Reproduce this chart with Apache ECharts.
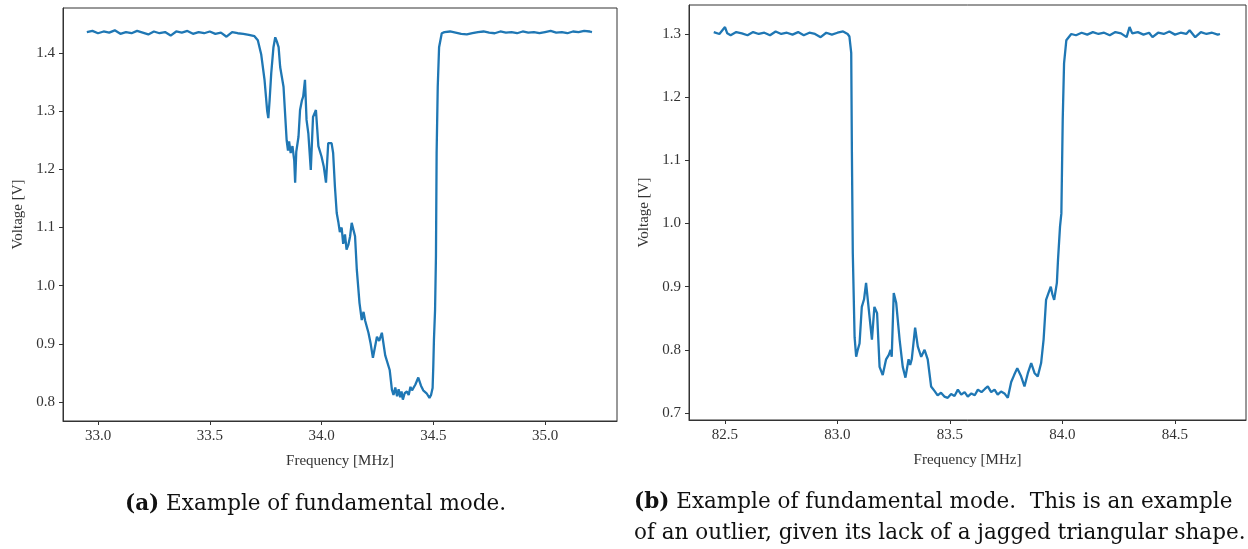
<!DOCTYPE html>
<html>
<head>
<meta charset="utf-8">
<script src="https://cdn.jsdelivr.net/npm/echarts@6/dist/echarts.min.js"></script>
<style>
html,body{margin:0;padding:0;background:#fff;}
#c{width:1248px;height:549px;}
</style>
</head>
<body>
<div id="c"></div>
<script>
// ---- Panel (a) ----
const freqA = [
32.950,32.975,33.000,33.025,33.050,33.075,33.100,33.125,33.150,33.175,
33.200,33.225,33.250,33.275,33.300,33.325,33.350,33.375,33.400,33.425,
33.450,33.475,33.500,33.525,33.550,33.575,33.600,33.625,33.650,33.675,
33.700,33.715,33.730,33.745,33.757,33.762,33.768,33.775,33.785,33.793,
33.800,33.808,33.815,33.830,33.844,33.850,33.855,33.862,33.870,33.878,
33.882,33.887,33.897,33.904,33.912,33.918,33.926,33.933,33.941,33.952,
33.962,33.975,33.986,34.000,34.010,34.020,34.030,34.045,34.052,34.060,
34.068,34.075,34.082,34.090,34.097,34.105,34.112,34.120,34.128,34.135,
34.150,34.158,34.170,34.180,34.188,34.195,34.210,34.220,34.230,34.248,
34.258,34.270,34.285,34.305,34.315,34.322,34.330,34.338,34.345,34.352,
34.358,34.364,34.372,34.382,34.390,34.398,34.405,34.420,34.433,34.445,
34.455,34.470,34.483,34.490,34.497,34.500,34.503,34.508,34.512,34.515,
34.520,34.526,34.538,34.550,34.575,34.600,34.625,34.650,34.675,34.700,
34.725,34.750,34.775,34.800,34.825,34.850,34.875,34.900,34.925,34.950,
34.975,35.000,35.025,35.050,35.075,35.100,35.125,35.150,35.175,35.200,
35.210
];
const voltA = [
1.436,1.438,1.434,1.437,1.435,1.439,1.433,1.436,1.434,1.438,
1.435,1.432,1.437,1.434,1.436,1.430,1.437,1.435,1.438,1.433,
1.436,1.434,1.437,1.433,1.435,1.428,1.436,1.434,1.433,1.431,
1.429,1.422,1.398,1.354,1.300,1.288,1.320,1.365,1.410,1.427,
1.420,1.410,1.376,1.342,1.250,1.232,1.248,1.228,1.240,1.215,
1.177,1.230,1.256,1.302,1.318,1.325,1.354,1.285,1.262,1.199,
1.290,1.302,1.240,1.222,1.205,1.177,1.245,1.245,1.228,1.170,
1.125,1.110,1.092,1.100,1.072,1.088,1.062,1.070,1.085,1.108,
1.085,1.027,0.970,0.941,0.955,0.940,0.919,0.900,0.876,0.912,
0.905,0.919,0.880,0.855,0.821,0.812,0.825,0.810,0.822,0.808,
0.818,0.804,0.815,0.818,0.812,0.826,0.820,0.830,0.842,0.828,
0.820,0.815,0.807,0.812,0.824,0.860,0.907,0.958,1.050,1.228,
1.342,1.410,1.434,1.436,1.437,1.435,1.433,1.432,1.434,1.436,
1.437,1.435,1.434,1.437,1.435,1.436,1.434,1.437,1.435,1.436,
1.434,1.436,1.438,1.435,1.436,1.434,1.437,1.436,1.438,1.437,
1.436
];
const xTicksA = [33.0, 33.5, 34.0, 34.5, 35.0];
const yTicksA = [0.8, 0.9, 1.0, 1.1, 1.2, 1.3, 1.4];

// ---- Panel (b) ----
const freqB = [
82.450,82.475,82.500,82.510,82.525,82.550,82.575,82.600,82.625,82.650,
82.675,82.700,82.725,82.750,82.775,82.800,82.825,82.850,82.875,82.900,
82.925,82.950,82.975,83.000,83.025,83.045,83.053,83.061,83.064,83.068,
83.076,83.083,83.090,83.098,83.108,83.118,83.127,83.133,83.139,83.153,
83.164,83.176,83.187,83.201,83.216,83.228,83.236,83.241,83.250,83.261,
83.276,83.290,83.302,83.316,83.323,83.330,83.345,83.357,83.372,83.387,
83.401,83.416,83.431,83.445,83.460,83.475,83.490,83.505,83.520,83.535,
83.550,83.565,83.579,83.595,83.610,83.624,83.640,83.655,83.668,83.683,
83.698,83.712,83.727,83.742,83.757,83.772,83.785,83.799,83.816,83.831,
83.846,83.861,83.876,83.890,83.905,83.916,83.927,83.938,83.948,83.955,
83.963,83.975,83.980,83.989,83.995,84.001,84.007,84.017,84.039,84.060,
84.085,84.110,84.135,84.160,84.185,84.210,84.235,84.260,84.285,84.298,
84.310,84.335,84.360,84.385,84.400,84.425,84.450,84.475,84.500,84.525,
84.550,84.565,84.590,84.615,84.640,84.665,84.690,84.700
];
const voltB = [
1.303,1.300,1.311,1.301,1.298,1.303,1.301,1.298,1.303,1.300,
1.302,1.298,1.304,1.300,1.302,1.299,1.303,1.298,1.302,1.300,
1.295,1.302,1.299,1.302,1.304,1.300,1.296,1.270,1.112,0.953,
0.820,0.789,0.800,0.810,0.868,0.880,0.906,0.885,0.864,0.816,
0.868,0.858,0.773,0.760,0.785,0.792,0.800,0.789,0.890,0.874,
0.816,0.773,0.756,0.785,0.776,0.785,0.835,0.805,0.789,0.800,
0.785,0.742,0.735,0.728,0.732,0.726,0.724,0.730,0.727,0.737,
0.729,0.733,0.726,0.731,0.728,0.737,0.733,0.738,0.742,0.733,
0.737,0.729,0.734,0.731,0.724,0.749,0.760,0.771,0.758,0.742,
0.763,0.779,0.763,0.758,0.779,0.816,0.879,0.890,0.900,0.888,
0.879,0.906,0.942,0.995,1.016,1.164,1.254,1.290,1.300,1.298,
1.302,1.299,1.303,1.300,1.302,1.298,1.303,1.301,1.295,1.311,
1.301,1.303,1.299,1.302,1.295,1.302,1.300,1.304,1.299,1.302,
1.300,1.306,1.295,1.303,1.300,1.302,1.299,1.300
];
const xTicksB = [82.5, 83.0, 83.5, 84.0, 84.5];
const yTicksB = [0.7, 0.8, 0.9, 1.0, 1.1, 1.2, 1.3];

const captionA = '{b|(a)} Example of fundamental mode.';
const captionB1 = '{b|(b)} Example of fundamental mode.  This is an example';
const captionB2 = 'of an outlier, given its lack of a jagged triangular shape.';

const zip = (xs, ys) => xs.map((x, i) => [x, ys[i]]);

const tickFont = 'Liberation Serif';
const axisColor = '#333';
const capFont = 'DejaVu Serif';
const capSize = 21.5;

function xAxisCfg(gi, min, max, ticks) {
  return {
    type: 'value', gridIndex: gi, min: min, max: max,
    name: 'Frequency [MHz]', nameLocation: 'middle', nameGap: 33,
    nameTextStyle: { fontFamily: tickFont, fontSize: 15, color: axisColor },
    axisLine: { show: true, lineStyle: { color: axisColor, width: 1 } },
    axisTick: { show: true, length: 4, customValues: ticks, lineStyle: { color: axisColor } },
    axisLabel: { customValues: ticks, margin: 8, fontFamily: tickFont, fontSize: 15, color: axisColor,
                 formatter: v => v.toFixed(1) },
    splitLine: { show: false }
  };
}
function yAxisCfg(gi, min, max, ticks) {
  return {
    type: 'value', gridIndex: gi, min: min, max: max,
    name: 'Voltage [V]', nameLocation: 'middle', nameGap: 37,
    nameTextStyle: { fontFamily: tickFont, fontSize: 15, color: axisColor },
    axisLine: { show: true, lineStyle: { color: axisColor, width: 1 } },
    axisTick: { show: true, length: 4, customValues: ticks, lineStyle: { color: axisColor } },
    axisLabel: { customValues: ticks, margin: 8, fontFamily: tickFont, fontSize: 15, color: axisColor,
                 formatter: v => v.toFixed(1) },
    splitLine: { show: false }
  };
}

const capStyle = {
  fontFamily: capFont, fontSize: capSize, color: '#111', fontWeight: 'normal',
  rich: { b: { fontFamily: capFont, fontSize: capSize, fontWeight: 'bold', color: '#111' } }
};

const chart = echarts.init(document.getElementById('c'), null, { renderer: 'canvas' });
chart.setOption({
  animation: false,
  backgroundColor: '#fff',
  title: [
    { text: captionA, left: 125, top: 493, padding: 0, textStyle: capStyle },
    { text: captionB1, left: 634, top: 491, padding: 0, textStyle: capStyle },
    { text: captionB2, left: 634, top: 522, padding: 0, textStyle: capStyle }
  ],
  grid: [
    { left: 63, top: 8, width: 554, height: 413, show: true, borderColor: axisColor, borderWidth: 1, containLabel: false },
    { left: 689, top: 5, width: 557, height: 415, show: true, borderColor: axisColor, borderWidth: 1, containLabel: false }
  ],
  xAxis: [
    xAxisCfg(0, 32.8434, 35.322, xTicksA),
    xAxisCfg(1, 82.34, 84.8156, xTicksB)
  ],
  yAxis: [
    yAxisCfg(0, 0.7673, 1.4774, yTicksA),
    yAxisCfg(1, 0.6889, 1.3459, yTicksB)
  ],
  series: [
    { type: 'line', xAxisIndex: 0, yAxisIndex: 0, data: zip(freqA, voltA), showSymbol: false,
      lineStyle: { color: '#1f77b4', width: 2.3 }, itemStyle: { color: '#1f77b4' } },
    { type: 'line', xAxisIndex: 1, yAxisIndex: 1, data: zip(freqB, voltB), showSymbol: false,
      lineStyle: { color: '#1f77b4', width: 2.3 }, itemStyle: { color: '#1f77b4' } }
  ]
});
</script>
</body>
</html>
